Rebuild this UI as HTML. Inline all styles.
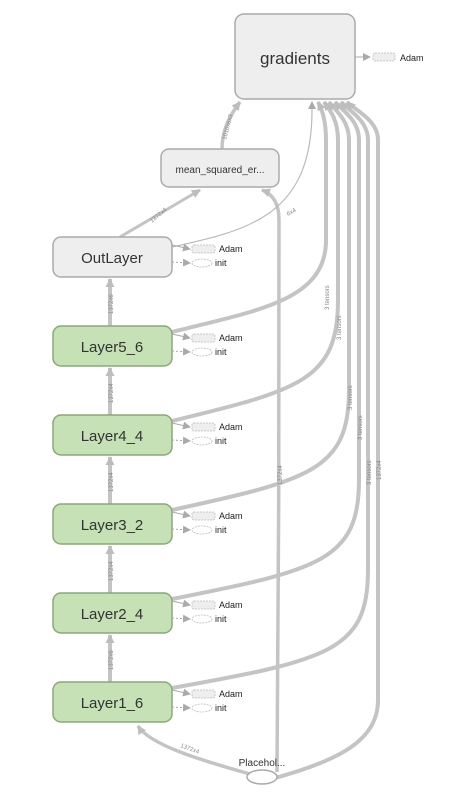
<!DOCTYPE html>
<html><head><style>
body{margin:0;background:#fff;}
svg{display:block;font-family:"Liberation Sans",sans-serif;}
</style></head><body>
<svg width="462" height="798" viewBox="0 0 462 798">
<defs>
<marker id="a" markerWidth="9" markerHeight="9" refX="8" refY="4.5" orient="auto" markerUnits="userSpaceOnUse"><path d="M0,0L9,4.5L0,9z" fill="#bdbdbd"/></marker>
<marker id="s" markerWidth="8" markerHeight="8" refX="7" refY="4" orient="auto" markerUnits="userSpaceOnUse"><path d="M0,0L8,4L0,8z" fill="#aaa"/></marker>
</defs>
<g fill="none" stroke="#c4c4c4" stroke-width="4">
<path d="M110,326V279" marker-end="url(#a)"/>
<path d="M110,415V368" marker-end="url(#a)"/>
<path d="M110,504V457" marker-end="url(#a)"/>
<path d="M110,593V546" marker-end="url(#a)"/>
<path d="M110,682V635" marker-end="url(#a)"/>
<path d="M120,237L200,190" stroke-width="3" marker-end="url(#a)"/>
<path d="M222,149C222,130 230,115 240,102" stroke-width="3.5" marker-end="url(#a)"/>
<path d="M172,332C260,310 326,300 326,240V140C326,120 322,110 318,102" marker-end="url(#a)"/>
<path d="M172,421C300,390 338,380 338,300V140C338,120 330,110 324,102" marker-end="url(#a)"/>
<path d="M172,510C310,480 349,470 349,390V140C349,120 335,110 329,102" marker-end="url(#a)"/>
<path d="M172,599C320,570 359,560 359,480V140C359,120 342,110 335,102" marker-end="url(#a)"/>
<path d="M172,688C330,660 368,650 368,570V140C368,120 348,110 341,102" marker-end="url(#a)"/>
<path d="M277,772C279,700 279,230 279,220C279,200 270,193 262,190" stroke-width="3.5" marker-end="url(#a)"/>
<path d="M275,778C340,760 378,740 378,700V140C378,120 355,110 347,102" marker-end="url(#a)"/>
<path d="M250,774C200,760 150,745 138,726" stroke-width="3.5" marker-end="url(#a)"/>
</g>
<path d="M172,247C250,230 312,215 312,110V102" fill="none" stroke="#bbb" stroke-width="1.2" marker-end="url(#s)"/>
<g fill="#888" font-size="6">
<text transform="translate(226,140) rotate(-75)">1010x6x3</text>
<text transform="translate(152,223) rotate(-40)">1372x4</text>
<text transform="translate(288,216) rotate(-30)">6x4</text>
<text transform="translate(113,314) rotate(-90)">1372x6</text>
<text transform="translate(113,403) rotate(-90)">1372x4</text>
<text transform="translate(113,492) rotate(-90)">1372x4</text>
<text transform="translate(113,581) rotate(-90)">1372x4</text>
<text transform="translate(113,670) rotate(-90)">1372x6</text>
<text transform="translate(329,310) rotate(-90)">3 tensors</text>
<text transform="translate(341,340) rotate(-90)">3 tensors</text>
<text transform="translate(352,410) rotate(-90)">3 tensors</text>
<text transform="translate(362,440) rotate(-90)">3 tensors</text>
<text transform="translate(371,485) rotate(-90)">3 tensors</text>
<text transform="translate(381,480) rotate(-90)">1372x4</text>
<text transform="translate(282,485) rotate(-90)">1372x4</text>
<text transform="translate(180,747) rotate(20)">1372x4</text>
</g>
<rect x="235" y="14" width="120" height="85" rx="9" fill="#eee" stroke="#aaa" stroke-width="1.5"/>
<text x="295" y="64" font-size="17" text-anchor="middle" fill="#333">gradients</text>
<rect x="161" y="149" width="118" height="38" rx="8" fill="#eee" stroke="#aaa" stroke-width="1.5"/>
<text x="220" y="173" font-size="10" text-anchor="middle" fill="#333">mean_squared_er...</text>
<rect x="53" y="237" width="119" height="40" rx="8" fill="#eee" stroke="#aaa" stroke-width="1.5"/>
<text x="112" y="263" font-size="15" text-anchor="middle" fill="#333">OutLayer</text>
<g fill="#c5e1b5" stroke="#8aa77a" stroke-width="1.5">
<rect x="53" y="326" width="119" height="40" rx="8"/>
<rect x="53" y="415" width="119" height="40" rx="8"/>
<rect x="53" y="504" width="119" height="40" rx="8"/>
<rect x="53" y="593" width="119" height="40" rx="8"/>
<rect x="53" y="682" width="119" height="40" rx="8"/>
</g>
<g font-size="15" text-anchor="middle" fill="#333">
<text x="112" y="352">Layer5_6</text>
<text x="112" y="441">Layer4_4</text>
<text x="112" y="530">Layer3_2</text>
<text x="112" y="619">Layer2_4</text>
<text x="112" y="708">Layer1_6</text>
</g>
<ellipse cx="262" cy="777" rx="15" ry="7" fill="#fff" stroke="#aaa" stroke-width="1.5"/>
<text x="262" y="766" font-size="10" text-anchor="middle" fill="#333">Placehol...</text>
<path d="M355,57H370" stroke="#aaa" stroke-width="1" marker-end="url(#s)"/>
<rect x="373" y="53" width="22" height="8" rx="2" fill="#eee" stroke="#bbb" stroke-dasharray="2,1" stroke-width="0.8"/>
<text x="400" y="61" font-size="9" fill="#222">Adam</text>
<g stroke="#aaa" stroke-width="1" fill="none">
<path d="M172,245L190,249" marker-end="url(#s)"/><path d="M172,262L190,263" stroke-dasharray="2,2" marker-end="url(#s)"/>
<path d="M172,334L190,338" marker-end="url(#s)"/><path d="M172,351L190,352" stroke-dasharray="2,2" marker-end="url(#s)"/>
<path d="M172,423L190,427" marker-end="url(#s)"/><path d="M172,440L190,441" stroke-dasharray="2,2" marker-end="url(#s)"/>
<path d="M172,512L190,516" marker-end="url(#s)"/><path d="M172,529L190,530" stroke-dasharray="2,2" marker-end="url(#s)"/>
<path d="M172,601L190,605" marker-end="url(#s)"/><path d="M172,618L190,619" stroke-dasharray="2,2" marker-end="url(#s)"/>
<path d="M172,690L190,694" marker-end="url(#s)"/><path d="M172,707L190,708" stroke-dasharray="2,2" marker-end="url(#s)"/>
</g>
<g stroke="#bbb" stroke-width="0.8" stroke-dasharray="2,1">
<rect x="192" y="245" width="23" height="8" rx="2" fill="#eee"/><ellipse cx="202" cy="263" rx="10" ry="4" fill="#fff"/>
<rect x="192" y="334" width="23" height="8" rx="2" fill="#eee"/><ellipse cx="202" cy="352" rx="10" ry="4" fill="#fff"/>
<rect x="192" y="423" width="23" height="8" rx="2" fill="#eee"/><ellipse cx="202" cy="441" rx="10" ry="4" fill="#fff"/>
<rect x="192" y="512" width="23" height="8" rx="2" fill="#eee"/><ellipse cx="202" cy="530" rx="10" ry="4" fill="#fff"/>
<rect x="192" y="601" width="23" height="8" rx="2" fill="#eee"/><ellipse cx="202" cy="619" rx="10" ry="4" fill="#fff"/>
<rect x="192" y="690" width="23" height="8" rx="2" fill="#eee"/><ellipse cx="202" cy="708" rx="10" ry="4" fill="#fff"/>
</g>
<g font-size="9" fill="#222">
<text x="219" y="252">Adam</text><text x="215" y="266">init</text>
<text x="219" y="341">Adam</text><text x="215" y="355">init</text>
<text x="219" y="430">Adam</text><text x="215" y="444">init</text>
<text x="219" y="519">Adam</text><text x="215" y="533">init</text>
<text x="219" y="608">Adam</text><text x="215" y="622">init</text>
<text x="219" y="697">Adam</text><text x="215" y="711">init</text>
</g>
</svg>
</body></html>
